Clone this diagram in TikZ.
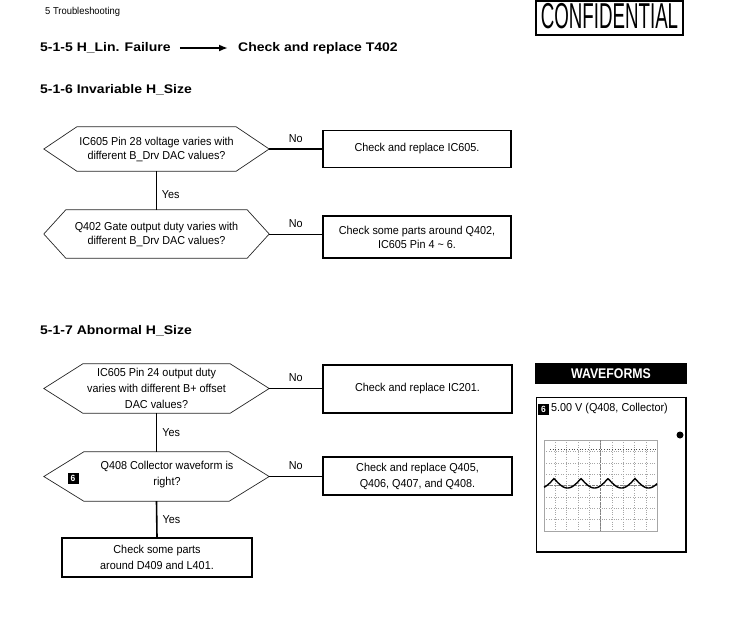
\documentclass[tikz,border=0pt]{standalone}
\usepackage{fontspec}
\setmainfont{Liberation Sans}[FakeStretch=0.94]
\newfontfamily\headfont{Liberation Sans}[FakeStretch=1.12]
\newfontfamily\conffont{Liberation Sans}[FakeStretch=0.52]
\newfontfamily\waveheadfont{Liberation Sans}[FakeStretch=0.88]
\usetikzlibrary{arrows.meta, positioning, calc}

\newcommand{\bodyA}{\fontsize{11.5}{14}\selectfont}
\newcommand{\bodyB}{\fontsize{11.5}{16}\selectfont}
% hexagon around a named node, #2 = inset of the points
\newcommand{\hexa}[2]{\draw[hexline] (#1.west) -- ([xshift=#2]#1.north west) -- ([xshift=-#2]#1.north east) -- (#1.east) -- ([xshift=-#2]#1.south east) -- ([xshift=#2]#1.south west) -- cycle;}

\tikzset{
  heading/.style={anchor=west, inner sep=0pt, font=\headfont\bfseries\fontsize{12.5}{15}\selectfont},
  decision/.style={minimum width=225pt, inner sep=0pt, align=center, font=\bodyA},
  hexline/.style={line width=0.7pt, black!85},
  action/.style={draw, line width=1.5pt, minimum width=188pt, inner sep=0pt, align=center, font=\bodyA},
  badge/.style={fill=black, text=white, font=\bfseries\fontsize{9}{9}\selectfont, minimum size=11pt, inner sep=0pt},
  answer/.style={font=\bodyA, inner sep=0pt},
  thinlink/.style={line width=0.8pt},
  thicklink/.style={line width=1.6pt}
}

\begin{document}
\begin{tikzpicture}[x=1pt,y=-1pt]
            \useasboundingbox (0,0) rectangle (750,630);

            % Tiêu đề trang
            \node[anchor=west, inner sep=0pt, font=\fontsize{10}{12}\selectfont] (chap) at (45,12) {5 Troubleshooting};
            \node[draw, line width=1.3pt, minimum width=147pt, minimum height=34pt, inner sep=0pt, text depth=4pt, font=\conffont\fontsize{36}{36}\selectfont] (conf) at (609.5,18) {CONFIDENTIAL};

            % 5-1-5
            \node[heading] (hlin) at (40,48) {5-1-5 H\_Lin. Failure};
            \node[heading] (t402) at (238,48) {Check and replace T402};
            \draw[line width=2.6pt, -{Latex[length=9pt,width=7pt]}, shorten <=9pt, shorten >=10pt] (hlin.east) -- (t402.west);

            % 5-1-6
            \node[heading] (hsize) at (40,90) {5-1-6 Invariable H\_Size};
            \node[decision, minimum height=44pt] (ic605q) at (156.5,149) {IC605 Pin 28 voltage varies with\\different B\_Drv DAC values?};
            \hexa{ic605q}{33pt}
            \node[action, minimum height=37pt] (ic605r) at (417,149) {Check and replace IC605.};
            \node[decision, minimum height=48pt] (q402q) at (156.5,234) {Q402 Gate output duty varies with\\different B\_Drv DAC values?};
            \hexa{q402q}{22pt}
            \node[action, minimum height=42pt] (q402r) at (417,237) {Check some parts around Q402,\\IC605 Pin 4 \textasciitilde{} 6.};

            \draw[thicklink] (ic605q.east) -- (ic605r.west) node[answer, midway, above=6pt] {No};
            \draw[thinlink] (ic605q.south) -- (q402q.north) node[answer, pos=0.6, right=5pt] {Yes};
            \draw[thinlink] (q402q.east) -- (q402q.east -| q402r.west) node[answer, midway, above=6pt] {No};

            % 5-1-7
            \node[heading] (habn) at (40,331) {5-1-7 Abnormal H\_Size};
            \node[decision, font=\bodyB, minimum height=49pt] (ic605d) at (156.5,388.5) {IC605 Pin 24 output duty\\varies with different B+ offset\\DAC values?};
            \hexa{ic605d}{39pt}
            \node[action, font=\bodyB, minimum width=189pt, minimum height=48pt] (ic201r) at (417.5,389) {Check and replace IC201.};
            \node[decision, minimum height=49pt] (q408q) at (156.5,476.5) {};
            \hexa{q408q}{40pt}
            \node[font=\bodyB, align=center, inner sep=0pt] (q408t) at (167,475) {Q408 Collector waveform is\\right?};
            \node[badge] (q408b) at (73,478) {6};
            \node[action, font=\bodyB, minimum width=189pt, minimum height=38pt] (q408r) at (417.5,476) {Check and replace Q405,\\Q406, Q407, and Q408.};
            \node[action, font=\bodyB, minimum width=190pt, minimum height=39pt] (d409r) at (157,557.5) {Check some parts\\around D409 and L401.};

            \draw[thicklink] (ic605d.east) -- (ic605d.east -| ic201r.west) node[answer, midway, above=6pt] {No};
            \draw[thicklink] (ic605d.south) -- (q408q.north) node[answer, midway, right=5pt] {Yes};
            \draw[thicklink] (q408q.east) -- (q408q.east -| q408r.west) node[answer, midway, above=6pt] {No};
            \draw[thicklink] (q408q.south) -- (d409r.north) node[answer, midway, right=5pt] {Yes};

            % Dạng sóng
            \node[fill=black, text=white, font=\waveheadfont\bfseries\fontsize{14}{14}\selectfont, minimum width=152pt, minimum height=21pt, inner sep=0pt] (wavetitle) at (611,373.5) {WAVEFORMS};
            \node[draw, line width=0.8pt, minimum width=150pt, minimum height=155pt, inner sep=0pt] (wavepanel) at (611,474.5) {};
            \draw[line width=2pt] (wavepanel.north east) -- (wavepanel.south east) -- (wavepanel.south west);
            \node[badge] (waveb) at (543.5,409) {6};
            \node[anchor=west, inner sep=0pt, font=\bodyA] (wavecap) at (551,409) {5.00 V (Q408, Collector)};

            % Màn hình dao động ký
            \draw[gray!70, line width=0.5pt] (544,440) rectangle (657,531);
            \foreach \i in {1,...,9} \draw[gray!70, dotted] ({544+\i*11.3},440) -- ({544+\i*11.3},531);
            \foreach \j in {1,...,7} \draw[gray!70, dotted] (544,{440+\j*11.375}) -- (657,{440+\j*11.375});
            \draw[gray, densely dotted] (600.5,440) -- (600.5,531);
            \draw[gray, densely dotted] (544,485.5) -- (657,485.5);
            \draw[black!70, dotted, line width=0.7pt] (550,449) -- (657,449);
            \draw[line width=1.4pt, domain=544:657, samples=150, variable=\x] plot (\x, {488-9.5*(1-abs(sin((\x-554)*6.6667)))});
            \fill (680,435) circle (3.5pt);

\end{tikzpicture}
\end{document}
